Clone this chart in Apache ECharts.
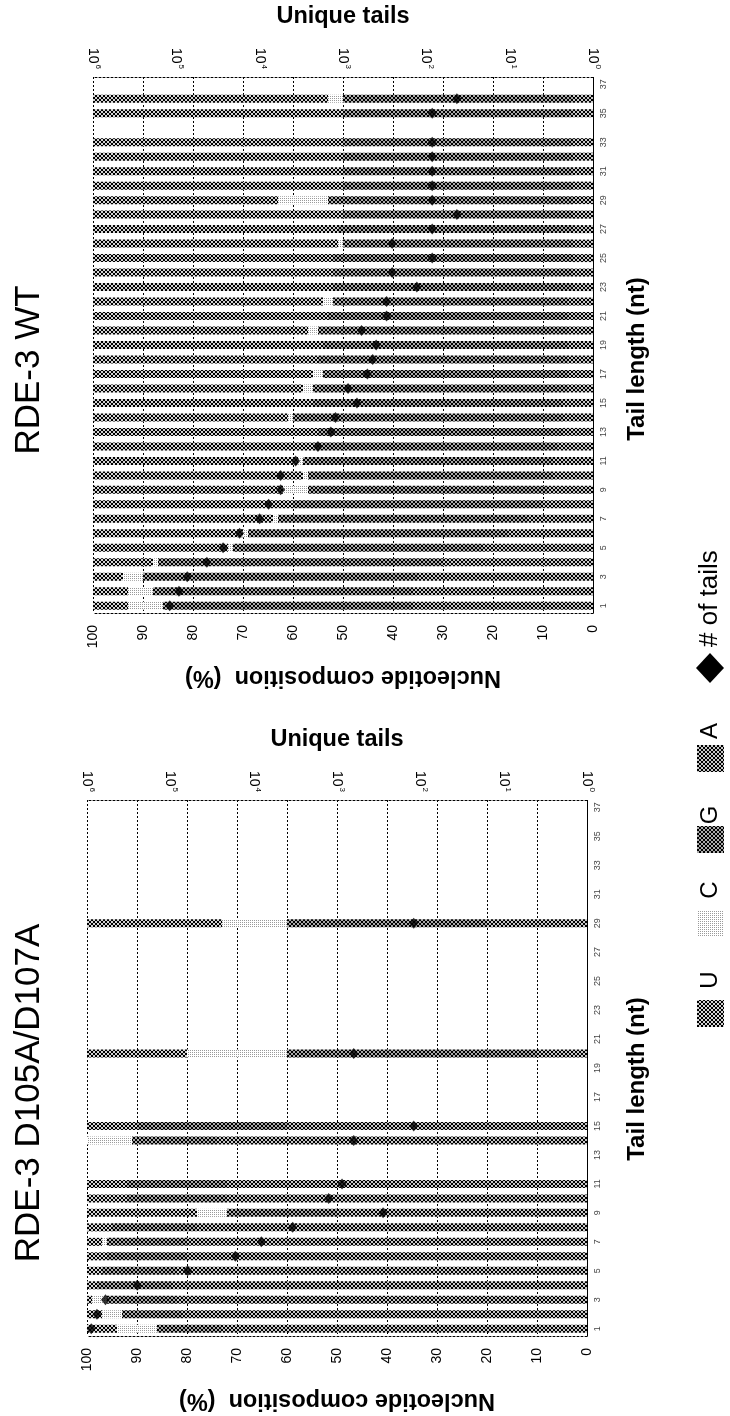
<!DOCTYPE html>
<html><head><meta charset="utf-8">
<script src="https://cdn.jsdelivr.net/npm/echarts@6/dist/echarts.min.js"></script>
<style>html,body{margin:0;padding:0;background:#fff}#c{width:730px;height:1416px}</style>
</head><body><div id="c"></div>
<script>
const categories = ['1','2','3','4','5','6','7','8','9','10','11','12','13','14','15','16','17','18','19','20','21','22','23','24','25','26','27','28','29','30','31','32','33','34','35','36','37'];
const tickExponents = [0,1,2,3,4,5,6];
const nucleotides = ['U','C','G','A'];
const titles = ['RDE-3 WT','RDE-3 D105A/D107A'];

// RDE-3 WT (percent per nucleotide, stacked from 0: A, G, C, U)
const wtU = [7,7,6,12,27,30,36,40,38,42,41,44,45,39,44,42,44,45,46,43,47,46,48,48,48,49,49,50,37,50,50,50,50,null,50,47,null];
const wtC = [7,5,4,1,1,1,1,0,5,1,1,0,0,1,0,2,2,0,0,2,0,2,0,0,0,1,0,0,10,0,0,0,0,null,0,3,null];
const wtG = [50,52,55,57,50,52,50,50,48,49,50,49,49,54,50,51,49,50,49,50,48,47,48,48,48,46,47,46,49,46,46,46,46,null,46,46,null];
const wtA = [36,36,35,30,22,17,13,10,9,8,8,7,6,6,6,5,5,5,5,5,5,5,4,4,4,4,4,4,4,4,4,4,4,null,4,4,null];
const wtTails = [120000,93000,74000,43000,27500,17400,10000,7800,5600,5600,3700,2000,1400,1230,680,870,510,440,400,600,300,300,130,257,85,257,85,43,85,85,85,85,85,null,85,43,null];

// RDE-3 D105A/D107A
const mutU = [6,3,1,2,3,4,3,5,22,8,8,null,null,0,10,null,null,null,null,20,null,null,null,null,null,null,null,null,27,null,null,null,null,null,null,null,null];
const mutC = [8,4,3,0,0,0,1,0,6,0,0,null,null,9,0,null,null,null,null,20,null,null,null,null,null,null,null,null,13,null,null,null,null,null,null,null,null];
const mutG = [13,12,14,15,15,16,16,17,22,20,20,null,null,17,30,null,null,null,null,50,null,null,null,null,null,null,null,null,40,null,null,null,null,null,null,null,null];
const mutA = [73,81,82,83,82,80,80,78,50,72,72,null,null,74,60,null,null,null,null,10,null,null,null,null,null,null,null,null,20,null,null,null,null,null,null,null,null];
const mutTails = [890000,760000,600000,250000,62000,16600,8100,3400,280,1260,870,null,null,630,120,null,null,null,null,630,null,null,null,null,null,null,null,null,120,null,null,null,null,null,null,null,null];

const FONT = '"Liberation Sans", Arial, Helvetica, sans-serif';

function makePattern(bg, fg, pts) {
  const c = document.createElement('canvas');
  c.width = 4; c.height = 4;
  const g = c.getContext('2d');
  g.fillStyle = bg; g.fillRect(0, 0, 4, 4);
  g.fillStyle = fg;
  pts.forEach(p => g.fillRect(p[0], p[1], 1, 1));
  return { image: c, repeat: 'repeat' };
}
const X = [[0,0],[3,0],[1,1],[2,1],[1,2],[2,2],[0,3],[3,3]];
const fills = {
  U: makePattern('#d4d4d4', '#000', X),
  C: makePattern('#ffffff', '#9a9a9a', [[0,0],[2,2],[2,0],[0,2]]),
  G: makePattern('#aaaaaa', '#000', X),
  A: makePattern('#c8c8c8', '#000', X)
};

const clean = a => a.map(v => v == null ? '-' : v);

const grids = [
  { left: 93, top: 77, width: 500, height: 536 },
  { left: 87, top: 800, width: 500, height: 536 }
];

const xAxes = [], yAxes = [], series = [];
const panelData = [
  { U: wtU, C: wtC, G: wtG, A: wtA, T: wtTails },
  { U: mutU, C: mutC, G: mutG, A: mutA, T: mutTails }
];
const dotted = { color: '#000', width: 1, type: [2, 2] };

panelData.forEach((d, i) => {
  xAxes.push({
    gridIndex: i, type: 'value', min: 0, max: 100, interval: 10, inverse: true, position: 'bottom',
    axisLine: { show: true, lineStyle: dotted }, axisTick: { show: false },
    axisLabel: { rotate: 90, fontSize: 14, color: '#000', margin: 12, fontFamily: FONT },
    splitLine: { show: true, lineStyle: dotted },
    name: 'Nucleotide composition  (%)', nameLocation: 'middle', nameGap: 52, nameRotate: 180,
    nameTextStyle: { fontSize: 23.5, fontWeight: 'bold', color: '#000', fontFamily: FONT }
  });
  xAxes.push({
    gridIndex: i, type: 'log', logBase: 10, min: 1, max: 1000000, inverse: true, position: 'top',
    axisLine: { show: true, lineStyle: dotted }, axisTick: { show: false }, splitLine: { show: false },
    axisLabel: {
      rotate: 90, margin: 8, color: '#000', fontFamily: FONT,
      formatter: v => { const e = Math.round(Math.log10(v)); return tickExponents.includes(e) ? '{b|10}{s|' + e + '}' : ''; },
      rich: { b: { fontSize: 14, fontFamily: FONT, color: '#000' }, s: { fontSize: 8, fontFamily: FONT, color: '#000', padding: [0, 0, 10, 1] } }
    },
    name: 'Unique tails', nameLocation: 'middle', nameGap: 48,
    nameTextStyle: { fontSize: 23.5, fontWeight: 'bold', color: '#000', fontFamily: FONT }
  });
  yAxes.push({
    gridIndex: i, type: 'category', data: categories, position: 'right',
    axisLine: { show: true, lineStyle: dotted }, axisTick: { show: false },
    axisLabel: { interval: 1, rotate: 90, fontSize: 9, color: '#444', margin: 6, fontFamily: FONT },
    splitLine: { show: false }
  });
  ['A', 'G', 'C', 'U'].forEach(k => {
    series.push({
      type: 'bar', name: k, stack: 'p' + i, xAxisIndex: 2 * i, yAxisIndex: i,
      data: clean(d[k]), barWidth: 8, itemStyle: { color: fills[k] }, silent: true
    });
  });
  series.push({
    type: 'scatter', name: '# of tails', xAxisIndex: 2 * i + 1, yAxisIndex: i,
    data: clean(d.T), symbol: 'diamond', symbolSize: [9, 11], itemStyle: { color: '#000' }, z: 5
  });
});

// legend drawn as a rotated group (reads bottom-to-top like the figure)
const legendChildren = [];
const legendPos = [[3, 50], [93, 140], [177, 215], [258, 299]];
nucleotides.forEach((k, j) => {
  legendChildren.push({ type: 'rect', shape: { x: legendPos[j][0], y: -13, width: 27, height: 27 }, style: { fill: fills[k] } });
  legendChildren.push({ type: 'text', x: legendPos[j][1], y: 0, style: { text: k, fontSize: 24, fontFamily: FONT, fill: '#000', align: 'center', verticalAlign: 'middle' } });
});
legendChildren.push({ type: 'polygon', shape: { points: [[347, 0], [362, -14], [377, 0], [362, 14]] }, style: { fill: '#000' } });
legendChildren.push({ type: 'text', x: 383, y: 0, style: { text: '# of tails', fontSize: 26, fontFamily: FONT, fill: '#000', align: 'left', verticalAlign: 'middle' } });

const axisNameStyle = { text: 'Tail length (nt)', fontSize: 24, fontWeight: 'bold', fontFamily: FONT, fill: '#000', align: 'center', verticalAlign: 'middle' };
const graphic = [
  { type: 'text', x: 29, y: 370, rotation: Math.PI / 2, style: { text: titles[0], fontSize: 35, fontFamily: FONT, fill: '#000', align: 'center', verticalAlign: 'middle' } },
  { type: 'text', x: 29, y: 1093, rotation: Math.PI / 2, style: { text: titles[1], fontSize: 35, fontFamily: FONT, fill: '#000', align: 'center', verticalAlign: 'middle' } },
  { type: 'text', x: 637, y: 359, rotation: Math.PI / 2, style: axisNameStyle },
  { type: 'text', x: 637, y: 1079, rotation: Math.PI / 2, style: axisNameStyle },
  { type: 'group', x: 710, y: 1030, rotation: Math.PI / 2, children: legendChildren }
];

const chart = echarts.init(document.getElementById('c'), null, { renderer: 'canvas' });
chart.setOption({
  animation: false,
  backgroundColor: '#fff',
  grid: grids,
  xAxis: xAxes,
  yAxis: yAxes,
  series: series,
  graphic: graphic
});
</script>
</body></html>
